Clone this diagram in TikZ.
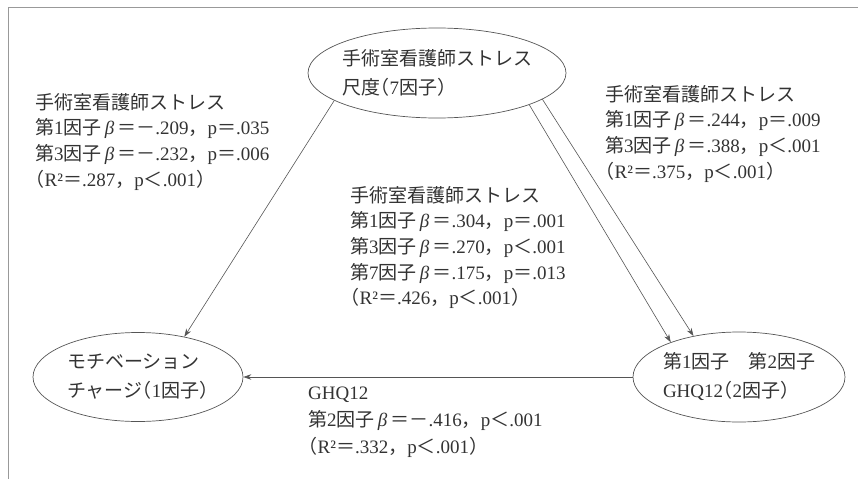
\documentclass[tikz,border=0pt]{standalone}
\usepackage{fontspec}
\setmainfont{Liberation Serif}
\newfontfamily\jpf{Noto Sans CJK JP}
\newfontfamily\jph[RawFeature=+halt]{Noto Sans CJK JP}
\usetikzlibrary{arrows.meta,shapes.geometric}
\newcommand\J[1]{{\jpf #1}}
\newcommand\Hp[1]{{\jph #1}}
\newcommand\Bt{\textit{β}}
% stat line: factor no., value, relation, p-value
\newcommand\St[4]{\J{第}#1\J{因子}\,\Bt\,\J{＝}#2\J{，}p\J{#3}#4}
\newcommand\Rs[3]{\Hp{（}R²\J{＝}#1\J{，}p\J{#2}#3\Hp{）}}
\definecolor{txt}{HTML}{333333}
\definecolor{ln}{HTML}{555555}
\definecolor{frm}{HTML}{999999}
\tikzset{
  ell/.style={draw=ln, line width=0.7pt, ellipse, inner sep=0pt},
  etext/.style={align=left, inner sep=0pt, text=txt, font=\fontsize{19}{29}\selectfont},
  stat/.style={align=left, inner sep=0pt, anchor=north west, text=txt, font=\fontsize{19}{25.7}\selectfont},
  arr/.style={draw=ln, line width=0.6pt, -{Stealth[length=8pt,width=5.5pt]}},
}
\begin{document}
\begin{tikzpicture}[x=1pt,y=-1pt]
\useasboundingbox (0,0) rectangle (858,479);
\draw[frm, line width=1pt] (8,7) coordinate (fa) -- (858,7) coordinate (fb);
\draw[frm, line width=1pt] (fa) -- (8,479) coordinate (fc);

\node[ell, minimum width=258pt, minimum height=90pt] (top) at (437,73) {};
\node[etext] (topt) at (top.center) {\J{手術室看護師ストレス}\\\J{尺度}\Hp{（}7\J{因子}\Hp{）}};

\node[ell, minimum width=210pt, minimum height=89pt] (mot) at (138,377) {};
\node[etext] (mott) at (mot.center) {\J{モチベーション}\\\J{チャージ}\Hp{（}1\J{因子}\Hp{）}};

\node[ell, minimum width=212pt, minimum height=90pt] (ghq) at (739,377) {};
\node[etext] (ghqt) at (ghq.center) {\J{第}1\J{因子　第}2\J{因子}\\GHQ12\Hp{（}2\J{因子}\Hp{）}};

\draw[arr] (top.195) -- (mot.41);
\draw[arr] (top.-19.4) -- (ghq.153.8);
\draw[arr] (top.-14) -- (ghq.138);
\draw[arr] (ghq.west) -- (mot.east);

\node[stat] (sl) at (35,93) {\J{手術室看護師ストレス}\\
  \St{1}{\J{－}.209}{＝}{.035}\\
  \St{3}{\J{－}.232}{＝}{.006}\\
  \Rs{.287}{＜}{.001}};

\node[stat] (sr) at (605,85) {\J{手術室看護師ストレス}\\
  \St{1}{.244}{＝}{.009}\\
  \St{3}{.388}{＜}{.001}\\
  \Rs{.375}{＜}{.001}};

\node[stat] (sm) at (350,186) {\J{手術室看護師ストレス}\\
  \St{1}{.304}{＝}{.001}\\
  \St{3}{.270}{＜}{.001}\\
  \St{7}{.175}{＝}{.013}\\
  \Rs{.426}{＜}{.001}};

\node[stat, font=\fontsize{19}{27}\selectfont] (sb) at (308,387) {GHQ12\\
  \St{2}{\J{－}.416}{＜}{.001}\\
  \Rs{.332}{＜}{.001}};
\end{tikzpicture}
\end{document}
